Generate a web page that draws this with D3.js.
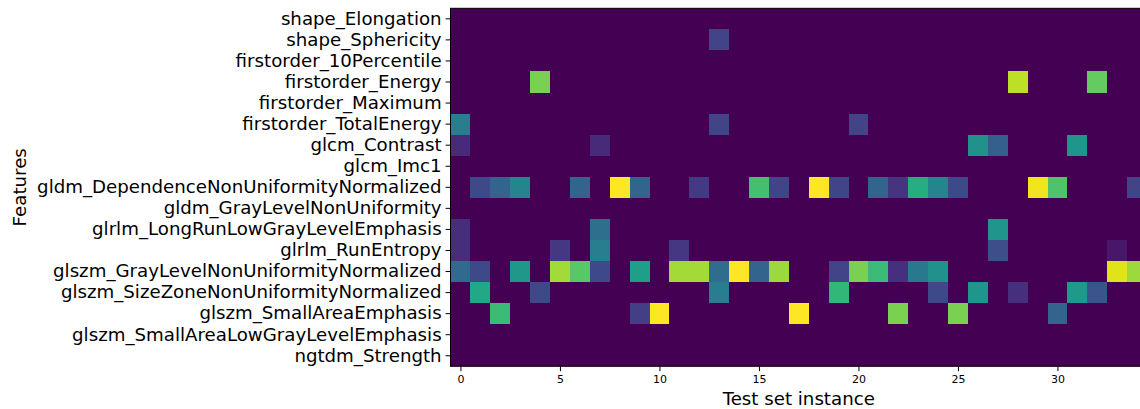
<!DOCTYPE html>
<html>
<head>
<meta charset="utf-8">
<script src="https://cdn.jsdelivr.net/npm/d3@7"></script>
<style>
  body { margin: 0; background: #fff; }
  svg { display: block; }
  svg text { font-family: "DejaVu Sans", sans-serif; }
</style>
</head>
<body>
<svg id="chart" width="1140" height="409"></svg>
<script>
var features = [
  "shape_Elongation",
  "shape_Sphericity",
  "firstorder_10Percentile",
  "firstorder_Energy",
  "firstorder_Maximum",
  "firstorder_TotalEnergy",
  "glcm_Contrast",
  "glcm_Imc1",
  "gldm_DependenceNonUniformityNormalized",
  "gldm_GrayLevelNonUniformity",
  "glrlm_LongRunLowGrayLevelEmphasis",
  "glrlm_RunEntropy",
  "glszm_GrayLevelNonUniformityNormalized",
  "glszm_SizeZoneNonUniformityNormalized",
  "glszm_SmallAreaEmphasis",
  "glszm_SmallAreaLowGrayLevelEmphasis",
  "ngtdm_Strength"
]

var instances = d3.range(35)
var xTicks = [0, 5, 10, 15, 20, 25, 30]

// one row per feature, one value per test instance
var importance = [
  [0,0,0,0,0, 0,0,0,0,0, 0,0,0,0,0, 0,0,0,0,0, 0,0,0,0,0, 0,0,0,0,0, 0,0,0,0,0],
  [0,0,0,0,0, 0,0,0,0,0, 0,0,0,.2,0, 0,0,0,0,0, 0,0,0,0,0, 0,0,0,0,0, 0,0,0,0,0],
  [0,0,0,0,0, 0,0,0,0,0, 0,0,0,0,0, 0,0,0,0,0, 0,0,0,0,0, 0,0,0,0,0, 0,0,0,0,0],
  [0,0,0,0,.8, 0,0,0,0,0, 0,0,0,0,0, 0,0,0,0,0, 0,0,0,0,0, 0,0,0,.9,0, 0,0,.76,0,0],
  [0,0,0,0,0, 0,0,0,0,0, 0,0,0,0,0, 0,0,0,0,0, 0,0,0,0,0, 0,0,0,0,0, 0,0,0,0,0],
  [.42,0,0,0,0, 0,0,0,0,0, 0,0,0,.2,0, 0,0,0,0,0, .2,0,0,0,0, 0,0,0,0,0, 0,0,0,0,0],
  [.12,0,0,0,0, 0,0,.12,0,0, 0,0,0,0,0, 0,0,0,0,0, 0,0,0,0,0, 0,.5,.3,0,0, 0,.52,0,0,0],
  [0,0,0,0,0, 0,0,0,0,0, 0,0,0,0,0, 0,0,0,0,0, 0,0,0,0,0, 0,0,0,0,0, 0,0,0,0,0],
  [0,.22,.32,.45,0, 0,.32,0,1,.32, 0,0,.17,0,0, .7,.2,0,1,.2, 0,.32,.15,.62,.45, .22,0,0,0,.98, .72,0,0,0,.2],
  [0,0,0,0,0, 0,0,0,0,0, 0,0,0,0,0, 0,0,0,0,0, 0,0,0,0,0, 0,0,0,0,0, 0,0,0,0,0],
  [.13,0,0,0,0, 0,0,.36,0,0, 0,0,0,0,0, 0,0,0,0,0, 0,0,0,0,0, 0,0,.52,0,0, 0,0,0,0,0],
  [.13,0,0,0,0, .16,0,.42,0,0, 0,.16,0,0,0, 0,0,0,0,0, 0,0,0,0,0, 0,0,.24,0,0, 0,0,0,.06,0],
  [.34,.22,0,.53,0, .86,.74,.22,0,.56, 0,.86,.86,.35,1, .32,.85,0,0,.2, .8,.68,.14,.4,.5, 0,0,0,0,0, 0,0,0,.95,.85],
  [0,.6,0,0,.22, 0,0,0,0,0, 0,0,0,.42,0, 0,0,0,0,.66, 0,0,0,0,.22, 0,.52,0,.14,0, 0,.54,.26,0,0],
  [0,0,.68,0,0, 0,0,0,0,.18, 1,0,0,0,0, 0,0,1,0,0, 0,0,.8,0,0, .8,0,0,0,0, .32,0,0,0,0],
  [0,0,0,0,0, 0,0,0,0,0, 0,0,0,0,0, 0,0,0,0,0, 0,0,0,0,0, 0,0,0,0,0, 0,0,0,0,0],
  [0,0,0,0,0, 0,0,0,0,0, 0,0,0,0,0, 0,0,0,0,0, 0,0,0,0,0, 0,0,0,0,0, 0,0,0,0,0]
]

var marginLeft = 450.5
var marginTop = 8.3
var cellW = 19.9
var plotH = 358
var font = "DejaVu Sans, sans-serif"
var labelSize = "18.2px"

var svg = d3.select("#chart")
var width = cellW * instances.length

var x = d3.scaleBand().domain(instances).range([0, width])
var xNum = d3.scaleLinear().domain([-0.5, instances.length - 0.5]).range([0, width])
var y = d3.scaleBand().domain(features).range([0, plotH])
var color = d3.scaleSequential(d3.interpolateViridis).domain([0, 1])

var g = svg.append("g").attr("transform", "translate(" + marginLeft + "," + marginTop + ")")

// dark background so no seams show between cells
g.append("rect")
  .attr("width", width)
  .attr("height", plotH)
  .attr("fill", color(0))

var cells = []
importance.forEach(function(row, i) {
  row.forEach(function(v, j) {
    if (v > 0) cells.push({ feature: features[i], inst: instances[j], value: v })
  })
})

g.selectAll("rect.cell")
  .data(cells)
  .enter()
  .append("rect")
  .attr("class", "cell")
  .attr("x", function(d) { return x(d.inst) })
  .attr("y", function(d) { return y(d.feature) })
  .attr("width", x.bandwidth())
  .attr("height", y.bandwidth())
  .attr("fill", function(d) { return color(d.value) })
  .attr("shape-rendering", "crispEdges")

// frame
g.append("rect")
  .attr("width", width)
  .attr("height", plotH)
  .attr("fill", "none")
  .attr("stroke", "#000")
  .attr("stroke-width", 1)

var yAxis = g.append("g")
  .call(d3.axisLeft(y).tickSize(4.9).tickPadding(4))
  .attr("font-family", font)
yAxis.select(".domain").remove()
yAxis.selectAll("text").style("font-size", labelSize).attr("fill", "#000")

var xAxis = g.append("g")
  .attr("transform", "translate(0," + plotH + ")")
  .call(d3.axisBottom(xNum).tickValues(xTicks).tickSize(4.9).tickPadding(3.8))
  .attr("font-family", font)
xAxis.select(".domain").remove()
xAxis.selectAll("text").style("font-size", "11px").attr("fill", "#000")

svg.append("text")
  .attr("x", marginLeft + xNum(17))
  .attr("y", 405)
  .attr("text-anchor", "middle")
  .attr("font-family", font)
  .style("font-size", labelSize)
  .text("Test set instance")

svg.append("text")
  .attr("transform", "translate(26," + (marginTop + plotH / 2) + ") rotate(-90)")
  .attr("text-anchor", "middle")
  .attr("font-family", font)
  .style("font-size", labelSize)
  .text("Features")
</script>
</body>
</html>
